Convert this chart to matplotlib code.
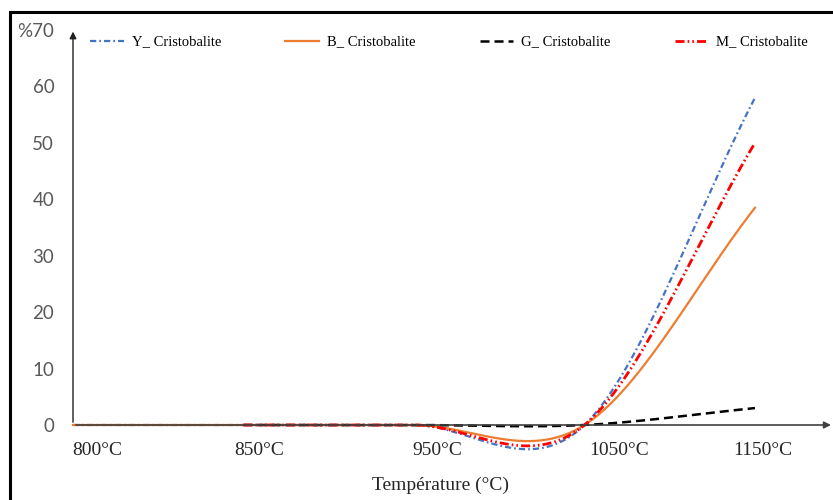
import numpy as np
import matplotlib
matplotlib.use('Agg')
import matplotlib.pyplot as plt
from matplotlib.transforms import ScaledTranslation
from matplotlib.patches import Rectangle

temperatures = ['800°C', '850°C', '950°C', '1050°C', '1150°C']
y_cristobalite = [0, 0, 0, 0, 58]
b_cristobalite = [0, 0, 0, 0, 38.5]
g_cristobalite = [np.nan, 0, 0, 0, 3]
m_cristobalite = [np.nan, 0, 0, 0, 50]
y_ticks = [0, 10, 20, 30, 40, 50, 60, 70]
y_tick_labels = ['0', '10', '20', '30', '40', '50', '60', '%70']

plt.rcParams['lines.scale_dashes'] = False


def smooth(values, n=60):
    # excel-like smoothed line (catmull-rom through the points)
    ys = np.asarray(values, float)
    xs = np.arange(len(ys), dtype=float)
    ok = ~np.isnan(ys)
    xs, ys = xs[ok], ys[ok]
    k = len(ys)
    m = np.zeros(k)
    for i in range(k):
        if i == 0:
            m[i] = ys[1] - ys[0]
        elif i == k - 1:
            m[i] = ys[-1] - ys[-2]
        else:
            m[i] = (ys[i + 1] - ys[i - 1]) / 2
    out_x, out_y = [], []
    t = np.linspace(0, 1, n)
    h00 = 2 * t**3 - 3 * t**2 + 1
    h10 = t**3 - 2 * t**2 + t
    h01 = -2 * t**3 + 3 * t**2
    h11 = t**3 - t**2
    for i in range(k - 1):
        out_x.extend(xs[i] + t)
        out_y.extend(h00 * ys[i] + h10 * m[i] + h01 * ys[i + 1] + h11 * m[i + 1])
    return np.array(out_x), np.array(out_y)


fig = plt.figure(figsize=(8.33, 5), dpi=100)
ax = fig.add_axes([73 / 833, 75 / 500, 757 / 833, 395 / 500])

series = [
    ('Y_ Cristobalite', y_cristobalite, '#4472C4', 1.6, (0, (4.5, 2.2, 1.2, 2.2))),
    ('B_ Cristobalite', b_cristobalite, '#ED7D31', 1.6, '-'),
    ('G_ Cristobalite', g_cristobalite, 'black', 1.8, (0, (6.5, 3.6))),
    ('M_ Cristobalite', m_cristobalite, '#FF0000', 2.0, (0, (6.5, 2.2, 1.2, 2.2, 1.2, 2.2))),
]
for name, vals, col, lw, ls in series:
    sx, sy = smooth(vals)
    ax.plot(sx, sy, color=col, lw=lw, linestyle=ls, label=name, clip_on=False)

ax.set_xlim(0, 4.44)
ax.set_ylim(0, 70)
for s in ax.spines.values():
    s.set_visible(False)

ax.annotate('', xy=(1.005, 0), xytext=(0, 0), xycoords='axes fraction',
            arrowprops=dict(arrowstyle='-|>', color='#404040', lw=1.2, mutation_scale=10))
ax.annotate('', xy=(0, 1.003), xytext=(0, 0), xycoords='axes fraction',
            arrowprops=dict(arrowstyle='-|>', color='#202020', lw=1.0, mutation_scale=10))

ax.set_xticks(range(len(temperatures)))
ax.set_xticklabels(temperatures, family='Liberation Serif', fontsize=14, color='#262626')
ax.set_yticks(y_ticks)
ax.set_yticklabels(y_tick_labels, family='Lato', fontsize=13.5, color='#595959')
ax.tick_params(axis='both', length=0)
ax.tick_params(axis='x', pad=12)
ax.tick_params(axis='y', pad=13.5)

label_shift = [24, 16, 23, 35, 8]
for lab, dx in zip(ax.get_xticklabels(), label_shift):
    lab.set_transform(lab.get_transform() + ScaledTranslation(dx / 100, 0, fig.dpi_scale_trans))

fig.text(441 / 833, 1 - 485 / 500, 'Température (°C)', family='Liberation Serif',
         fontsize=14, ha='center', va='center', color='#262626')

leg = fig.legend(loc='center left', bbox_to_anchor=(83 / 833, 1 - 42 / 500), ncol=4,
                 frameon=False, prop={'family': 'Liberation Serif', 'size': 10.5},
                 handlelength=2.3, handletextpad=0.55, columnspacing=4.4, borderpad=0)

fig.patches.append(Rectangle((10 / 833, -0.01), 1.0, 1 - 12 / 500 + 0.01,
                             transform=fig.transFigure, fill=False, lw=2.2,
                             edgecolor='black'))

fig.savefig('out.png', dpi=100)
